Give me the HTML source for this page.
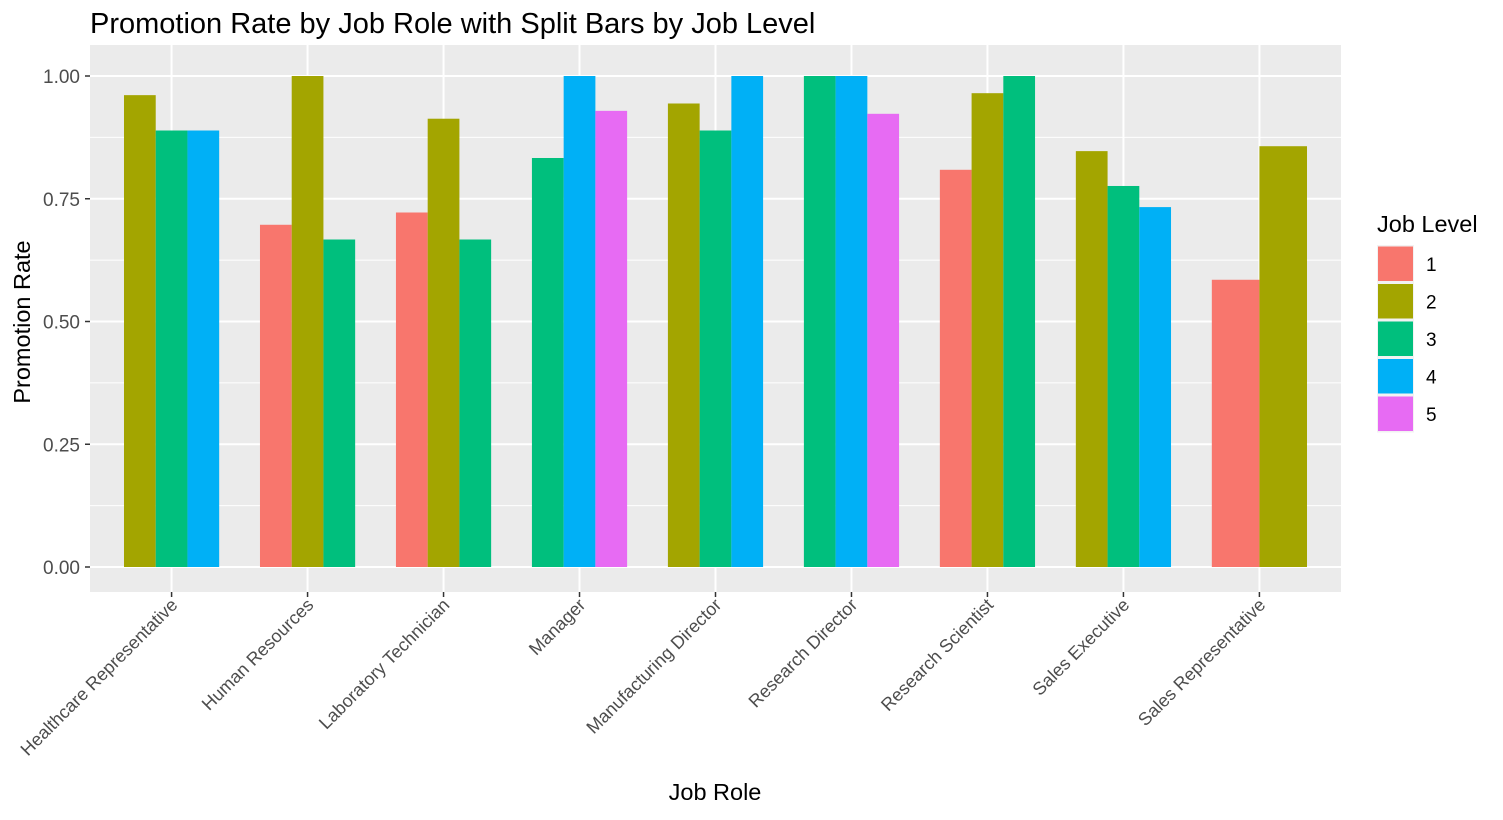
<!DOCTYPE html>
<html><head><meta charset="utf-8"><style>
body{margin:0;background:#fff;font-family:"Liberation Sans",Arial,sans-serif}
</style></head><body>
<svg id="c" width="1503" height="815" xmlns="http://www.w3.org/2000/svg" font-family="Liberation Sans, Arial, sans-serif">
<text x="90" y="33" font-size="29" fill="#000">Promotion Rate by Job Role with Split Bars by Job Level</text>
<rect x="90" y="45" width="1251" height="547" fill="#EBEBEB"/>
<g id="grid"></g><g id="bars"></g><g id="axes"></g>
<text x="715" y="800" font-size="23.5" text-anchor="middle">Job Role</text>
<text transform="translate(30,322) rotate(-90)" font-size="23.5" text-anchor="middle">Promotion Rate</text>
<text x="1377" y="232" font-size="23.5">Job Level</text>
<g id="legend"></g>
</svg>
<script>
const roles=["Healthcare Representative","Human Resources","Laboratory Technician","Manager","Manufacturing Director","Research Director","Research Scientist","Sales Executive","Sales Representative"];
const levels=[1,2,3,4,5];
const colors=["#F8766D","#A3A500","#00BF7D","#00B0F6","#E76BF3"];
// per role: [level, rate]
const rates=[
 [[2,0.961],[3,0.889],[4,0.889]],
 [[1,0.697],[2,1.0],[3,0.667]],
 [[1,0.722],[2,0.913],[3,0.667]],
 [[3,0.833],[4,1.0],[5,0.929]],
 [[2,0.944],[3,0.889],[4,1.0]],
 [[3,1.0],[4,1.0],[5,0.923]],
 [[1,0.809],[2,0.965],[3,1.0]],
 [[2,0.847],[3,0.776],[4,0.733]],
 [[1,0.585],[2,0.857]]
];
const yTicks=[0,0.25,0.5,0.75,1.0];
const yTickLabels=["0.00","0.25","0.50","0.75","1.00"];
const NS="http://www.w3.org/2000/svg";
const px0=90,px1=1341,step=(px1-px0)/(roles.length-1+1.2);
const xs=i=>px0+step*(0.6+i);
const ys=v=>567-v*491;
function mk(tag,attrs,parent){const e=document.createElementNS(NS,tag);for(const k in attrs)e.setAttribute(k,attrs[k]);document.getElementById(parent).appendChild(e);return e;}
for(let k=0;k<yTicks.length-1;k++){const m=(yTicks[k]+yTicks[k+1])/2;const e=mk('line',{x1:px0,x2:px1,y1:ys(m),y2:ys(m),stroke:'#fff','stroke-width':1},'grid');

}
yTicks.forEach((t,k)=>{const e=mk('line',{x1:px0,x2:px1,y1:ys(t),y2:ys(t),stroke:'#fff','stroke-width':2},'grid');


const tk=mk('line',{x1:85,x2:90,y1:ys(t),y2:ys(t),stroke:'#333','stroke-width':1.5},'axes');


const tx=mk('text',{x:80,y:ys(t)+7,'font-size':19,fill:'#4D4D4D','text-anchor':'end'},'axes');tx.textContent=yTickLabels[k];

});
roles.forEach((r,i)=>{const x=xs(i);
const g=mk('line',{x1:x,x2:x,y1:45,y2:592,stroke:'#fff','stroke-width':2},'grid');


const tk=mk('line',{x1:x,x2:x,y1:592,y2:597,stroke:'#333','stroke-width':1.5},'axes');


const tx=mk('text',{transform:`translate(${x+7},${606}) rotate(-45)`,'font-size':18,fill:'#4D4D4D','text-anchor':'end'},'axes');tx.textContent=r;


const grp=rates[i],total=step*0.7,w=total/grp.length,start=x-total/2;
grp.forEach((d,j)=>{const b=mk('rect',{x:start+j*w,y:ys(d[1]),width:w,height:ys(0)-ys(d[1]),fill:colors[d[0]-1]},'bars');

});
});
levels.forEach((l,k)=>{const y=245+k*37.5;
const bg=mk('rect',{x:1377,y:y,width:37,height:37.5,fill:'#F2F2F2'},'legend');


const s=mk('rect',{x:1378,y:y+1.5,width:35,height:34.5,fill:colors[k]},'legend');


const t=mk('text',{x:1426,y:y+26,'font-size':19},'legend');t.textContent=l;

});
</script>
</body></html>
